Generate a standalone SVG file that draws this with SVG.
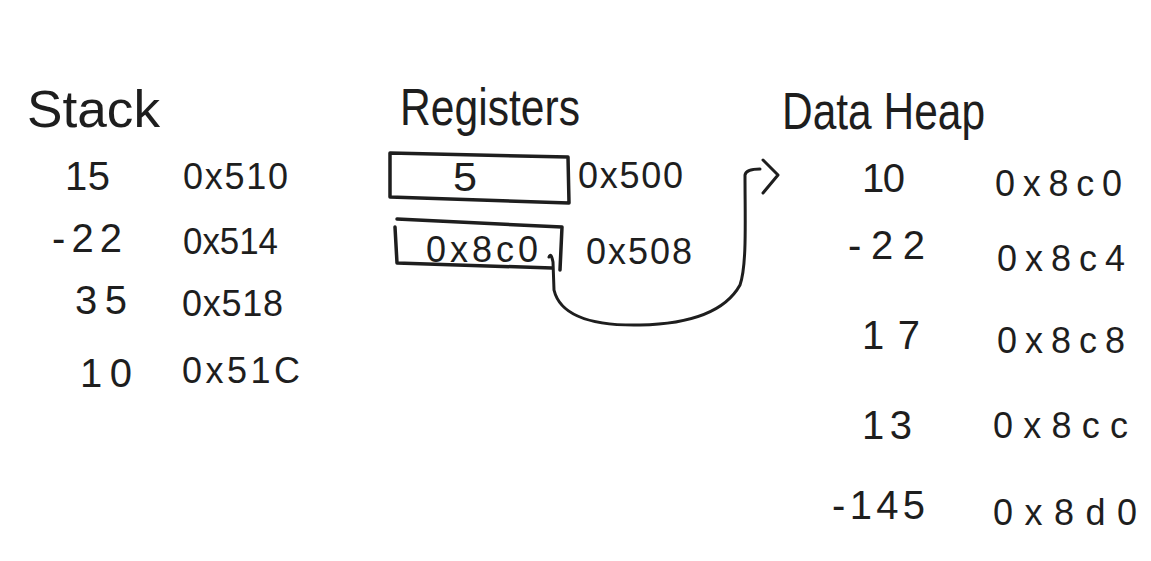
<svg xmlns="http://www.w3.org/2000/svg" width="1151" height="561" viewBox="0 0 1151 561">
<style>
text{font-family:"Liberation Sans","DejaVu Sans",sans-serif;fill:#1e1e1e}
.title{font-size:52px}
.val{font-size:40px}
.hex{font-size:36px}
.box{fill:none;stroke:#1e1e1e;stroke-width:3.5;stroke-linejoin:round;stroke-linecap:round}
.conn{fill:none;stroke:#1e1e1e;stroke-width:3;stroke-linecap:round;stroke-linejoin:round}
</style>
<rect width="1151" height="561" fill="#ffffff"/>
<g id="stack">
<text class="title" x="27" y="127" textLength="133" lengthAdjust="spacingAndGlyphs">Stack</text>
<text class="val" x="65" y="190" textLength="45" lengthAdjust="spacing">15</text>
<text class="hex" x="183" y="189" textLength="105" lengthAdjust="spacing">0x510</text>
<text class="val" x="52" y="252" textLength="70" lengthAdjust="spacing">-22</text>
<text class="hex" x="183" y="254" textLength="95" lengthAdjust="spacingAndGlyphs">0x514</text>
<text class="val" x="75" y="314" textLength="52" lengthAdjust="spacing">35</text>
<text class="hex" x="182" y="316" textLength="101" lengthAdjust="spacing">0x518</text>
<text class="val" x="80" y="387" textLength="52" lengthAdjust="spacing">10</text>
<text class="hex" x="182" y="383" textLength="118" lengthAdjust="spacing">0x51C</text>
</g>
<g id="registers">
<text class="title" x="400" y="125" textLength="180" lengthAdjust="spacingAndGlyphs">Registers</text>
<g id="reg1">
<path class="box" d="M390 153 L568 157 L569 203 L390 197 Z"/>
<text class="val" x="453" y="191" textLength="24" lengthAdjust="spacingAndGlyphs">5</text>
<text class="hex" x="578" y="188" textLength="105" lengthAdjust="spacing">0x500</text>
</g>
<g id="reg2">
<path class="box" d="M397 219 L562 227 M395 227 L397 263 L552 268 M562 227 L560 270"/>
<text class="hex" x="426" y="262" textLength="112" lengthAdjust="spacing">0x8c0</text>
<text class="hex" x="586" y="264" textLength="106" lengthAdjust="spacing">0x508</text>
</g>
</g>
<g id="heap">
<text class="title" x="782" y="129" textLength="203" lengthAdjust="spacingAndGlyphs">Data Heap</text>
<text class="val" x="862" y="192" textLength="43" lengthAdjust="spacing">10</text>
<text class="hex" x="995" y="196" textLength="127" lengthAdjust="spacing">0x8c0</text>
<text class="val" x="848" y="259" textLength="77" lengthAdjust="spacing">-22</text>
<text class="hex" x="997" y="271" textLength="128" lengthAdjust="spacing">0x8c4</text>
<text class="val" x="862" y="349" textLength="58" lengthAdjust="spacing">17</text>
<text class="hex" x="997" y="353" textLength="128" lengthAdjust="spacing">0x8c8</text>
<text class="val" x="862" y="439" textLength="50" lengthAdjust="spacing">13</text>
<text class="hex" x="993" y="438" textLength="135" lengthAdjust="spacing">0x8cc</text>
<text class="val" x="832" y="519" textLength="93" lengthAdjust="spacing">-145</text>
<text class="hex" x="993" y="525" textLength="144" lengthAdjust="spacing">0x8d0</text>
</g>
<g id="connectors">
<path class="conn" d="M549 257 Q551 252 553 262 L554 290 C560 315 590 326 640 325 C690 324 725 312 740 285 C747 265 745 220 745 175 Q746 169 760 169"/>
<path class="conn" d="M763 160 L778 175 L763 193"/>
</g>
</svg>
